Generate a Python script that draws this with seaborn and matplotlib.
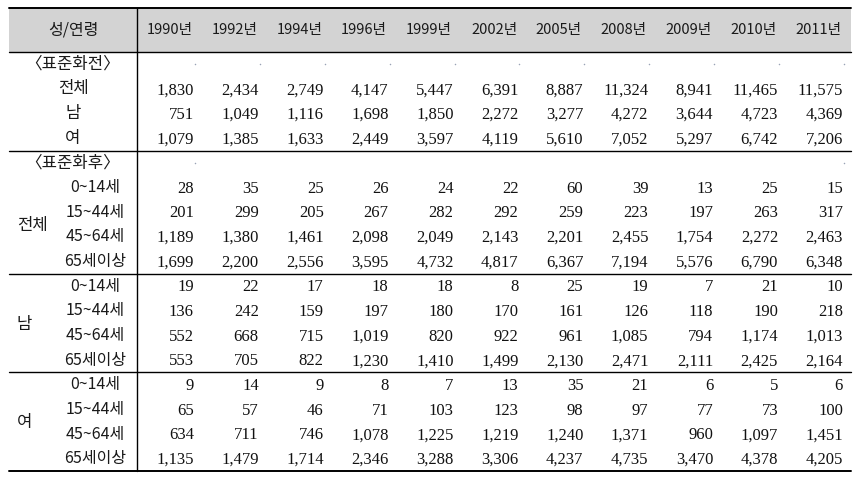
import numpy as np
import matplotlib
matplotlib.use("Agg")
import matplotlib.pyplot as plt
from matplotlib.colors import ListedColormap
from matplotlib.patches import Rectangle
import seaborn as sns

# ---------------- data ----------------
years = ["1990년", "1992년", "1994년", "1996년", "1999년", "2002년",
         "2005년", "2008년", "2009년", "2010년", "2011년"]

header_label = "성/연령"
pre_title = "〈표준화전〉"
post_title = "〈표준화후〉"
pre_labels = ["전체", "남", "여"]
groups = ["전체", "남", "여"]
ages = ["0~14세", "15~44세", "45~64세", "65세이상"]

pre_total = [1830, 2434, 2749, 4147, 5447, 6391, 8887, 11324, 8941, 11465, 11575]
pre_male = [751, 1049, 1116, 1698, 1850, 2272, 3277, 4272, 3644, 4723, 4369]
pre_female = [1079, 1385, 1633, 2449, 3597, 4119, 5610, 7052, 5297, 6742, 7206]

tot_0_14 = [28, 35, 25, 26, 24, 22, 60, 39, 13, 25, 15]
tot_15_44 = [201, 299, 205, 267, 282, 292, 259, 223, 197, 263, 317]
tot_45_64 = [1189, 1380, 1461, 2098, 2049, 2143, 2201, 2455, 1754, 2272, 2463]
tot_65 = [1699, 2200, 2556, 3595, 4732, 4817, 6367, 7194, 5576, 6790, 6348]

m_0_14 = [19, 22, 17, 18, 18, 8, 25, 19, 7, 21, 10]
m_15_44 = [136, 242, 159, 197, 180, 170, 161, 126, 118, 190, 218]
m_45_64 = [552, 668, 715, 1019, 820, 922, 961, 1085, 794, 1174, 1013]
m_65 = [553, 705, 822, 1230, 1410, 1499, 2130, 2471, 2111, 2425, 2164]

f_0_14 = [9, 14, 9, 8, 7, 13, 35, 21, 6, 5, 6]
f_15_44 = [65, 57, 46, 71, 103, 123, 98, 97, 77, 73, 100]
f_45_64 = [634, 711, 746, 1078, 1225, 1219, 1240, 1371, 960, 1097, 1451]
f_65 = [1135, 1479, 1714, 2346, 3288, 3306, 4237, 4735, 3470, 4378, 4205]

# placeholder dots in the section title rows (column indices)
pre_dot_cols = list(range(11))
post_dot_cols = [0, 10]

# ---------------- table body assembly ----------------
rows = [None, pre_total, pre_male, pre_female, None,
        tot_0_14, tot_15_44, tot_45_64, tot_65,
        m_0_14, m_15_44, m_45_64, m_65,
        f_0_14, f_15_44, f_45_64, f_65]
n_rows, n_cols = len(rows), len(years)
body = np.array([[np.nan if r is None else r[c] for c in range(n_cols)] for r in rows], dtype=float)

# ---------------- figure ----------------
sns.set_theme(style="white")
KR = ["Noto Sans CJK KR", "DejaVu Sans"]
NUM = ["Liberation Serif", "DejaVu Serif"]
YR = ["Liberation Sans Narrow", "Noto Sans CJK KR", "DejaVu Sans"]
plt.rcParams["font.family"] = KR

W, H = 856, 479
fig = plt.figure(figsize=(W / 100, H / 100), dpi=100)
fig.patch.set_facecolor("white")

tbl_left, tbl_right = 9, 851
body_left, body_top, body_bottom = 137, 52, 471
head_top = 8
ax = fig.add_axes([body_left / W, (H - body_bottom) / H,
                   (tbl_right - body_left) / W, (body_bottom - body_top) / H])

sns.heatmap(np.zeros_like(body), ax=ax, cmap=ListedColormap(["white"]),
            cbar=False, xticklabels=False, yticklabels=False, linewidths=0)
for s in ax.spines.values():
    s.set_visible(False)

colw = (tbl_right - body_left) / n_cols
rowh = (body_bottom - body_top) / n_rows
x_left = (tbl_left - body_left) / colw          # label column left edge (data units)
y_head = (head_top - body_top) / rowh           # header top (data units)
lab_c = (x_left + 0) / 2                          # label column centre
grp_x = x_left + 8 / colw
age_x = x_left + 86 / colw
TXT = "#1a1a1a"

# header band
ax.add_patch(Rectangle((x_left, y_head), n_cols - x_left, -y_head,
                       facecolor="#d3d3d3", edgecolor="none", clip_on=False, zorder=0))
ax.text(lab_c, y_head / 2, header_label, ha="center", va="center", fontsize=11.5,
        family=KR, color=TXT, clip_on=False)
for c, yl in enumerate(years):
    ax.text(c + 0.5, y_head / 2, yl, ha="center", va="center", fontsize=10.5,
            family=YR, color=TXT, clip_on=False)

# numbers
for r in range(n_rows):
    for c in range(n_cols):
        v = body[r, c]
        if np.isnan(v):
            continue
        ax.text(c + 1 - 8 / colw, r + 0.55, f"{int(v):,}", ha="right", va="center",
                fontsize=12, family=NUM, color="#111111")

# placeholder dots
ax.scatter([c + 1 - 7 / colw for c in pre_dot_cols], [0.5] * len(pre_dot_cols),
           s=1.2, color="#9aa3b5", linewidths=0)
ax.scatter([c + 1 - 7 / colw for c in post_dot_cols], [4.5] * len(post_dot_cols),
           s=1.2, color="#9aa3b5", linewidths=0)

# row labels
ax.text(lab_c, 0.5, pre_title, ha="center", va="center", fontsize=12, color=TXT, clip_on=False)
for i, lab in enumerate(pre_labels):
    ax.text(lab_c, 1.5 + i, lab, ha="center", va="center", fontsize=12, color=TXT, clip_on=False)
ax.text(lab_c, 4.5, post_title, ha="center", va="center", fontsize=12, color=TXT, clip_on=False)
for g, grp in enumerate(groups):
    start = 5 + 4 * g
    ax.text(grp_x, start + 2.05, grp, ha="left", va="center",
            fontsize=12, color=TXT, clip_on=False)
    for a, age in enumerate(ages):
        ax.text(age_x, start + a + 0.5, age, ha="center", va="center",
                fontsize=11.5, color=TXT, clip_on=False)

# rules
ax.plot([x_left, n_cols], [y_head, y_head], color="black", lw=1.4, clip_on=False)
ax.plot([x_left, n_cols], [0, 0], color="black", lw=1.0, clip_on=False)
for yb in [4, 9, 13]:
    ax.plot([x_left, n_cols], [yb, yb], color="black", lw=1.0, clip_on=False)
ax.plot([x_left, n_cols], [n_rows, n_rows], color="black", lw=1.4, clip_on=False)
ax.plot([0, 0], [y_head, n_rows], color="black", lw=1.0, clip_on=False)

fig.savefig("out.png", dpi=100, facecolor="white")
